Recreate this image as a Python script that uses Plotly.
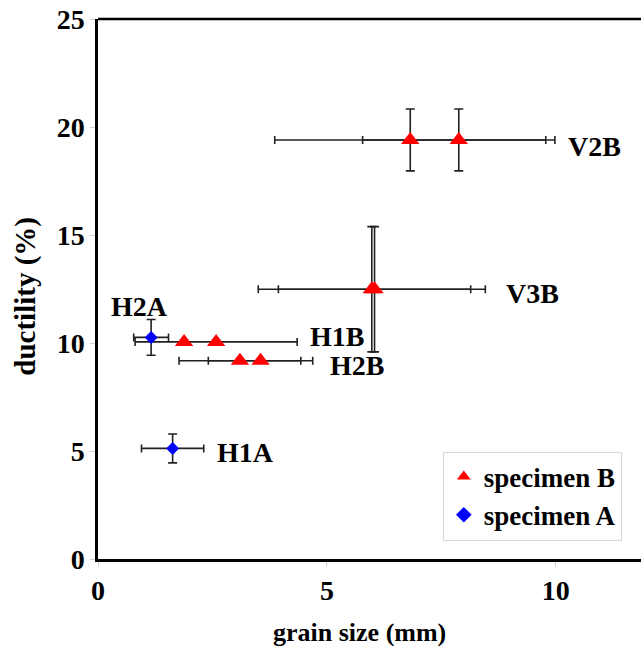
import plotly.graph_objects as go

# specimen B (red triangles)
b_x = [6.82, 7.88, 5.98, 6.04, 1.88, 2.58, 3.10, 3.55]
b_y = [19.40, 19.40, 12.49, 12.49, 10.05, 10.05, 9.18, 9.18]
b_xerr = [2.96, 2.10, 2.48, 2.10, None, 1.77, 1.33, 1.14]
b_yerr = [1.43, 1.43, 2.90, 2.90, None, None, None, None]

# specimen A (blue diamonds)
a_x = [1.16, 1.63]
a_y = [10.26, 5.12]
a_xerr = [0.38, 0.68]
a_yerr = [0.83, 0.67]

# point labels
lab_text = ["V2B", "V3B", "H1B", "H2B", "H2A", "H1A"]
lab_x = [10.85, 9.5, 5.21, 5.65, 0.9, 3.22]
lab_y = [19.1, 12.3, 10.3, 8.98, 11.7, 4.94]

x_ticks = [0, 5, 10]
y_ticks = [0, 5, 10, 15, 20, 25]

FONT = "Liberation Serif"
ERRC = "#222222"

fig = go.Figure()
fig.add_trace(go.Scatter(
    x=b_x, y=b_y, mode="markers", name="<b>specimen B</b>",
    marker=dict(symbol="triangle-up", size=16, color="#ff0000"),
    error_x=dict(type="data", array=b_xerr, visible=True, color=ERRC, thickness=1.6, width=4),
    error_y=dict(type="data", array=b_yerr, visible=True, color=ERRC, thickness=1.6, width=4.5),
))
fig.add_trace(go.Scatter(
    x=a_x, y=a_y, mode="markers", name="<b>specimen A</b>",
    marker=dict(symbol="diamond", size=10, color="#0000ff"),
    error_x=dict(type="data", array=a_xerr, visible=True, color=ERRC, thickness=1.6, width=4),
    error_y=dict(type="data", array=a_yerr, visible=True, color=ERRC, thickness=1.6, width=4.5),
))

for t, x, y in zip(lab_text, lab_x, lab_y):
    fig.add_annotation(x=x, y=y, xref="x", yref="y", text="<b>%s</b>" % t, showarrow=False,
                       font=dict(family=FONT, size=28, color="black"),
                       xanchor="center", yanchor="middle")

# axis titles
fig.add_annotation(x=0.481, y=-0.137, xref="paper", yref="paper", text="<b>grain size (mm)</b>",
                   showarrow=False, font=dict(family=FONT, size=26, color="black"),
                   xanchor="center", yanchor="middle")
fig.add_annotation(x=-0.135, y=0.487, xref="paper", yref="paper", text="<b>ductility (%)</b>",
                   showarrow=False, textangle=-90, font=dict(family=FONT, size=29, color="black"),
                   xanchor="center", yanchor="middle")

# top frame line
fig.add_shape(type="line", xref="paper", yref="paper", x0=0, x1=1, y0=1, y1=1,
              line=dict(color="black", width=2.5))

fig.update_xaxes(range=[0, 11.86], tickvals=x_ticks, ticktext=["<b>%d</b>" % v for v in x_ticks],
                 showgrid=False, zeroline=False, showline=True, linecolor="black", linewidth=2.5,
                 ticks="outside", ticklen=5, tickcolor="#d0d0d0",
                 tickfont=dict(family=FONT, size=28, color="black"))
fig.update_yaxes(range=[0, 25], tickvals=y_ticks, ticktext=["<b>%d</b>" % v for v in y_ticks],
                 showgrid=False, zeroline=False, showline=True, linecolor="black", linewidth=2.5,
                 ticks="outside", ticklen=5, tickcolor="#d0d0d0",
                 tickfont=dict(family=FONT, size=28, color="black"))

fig.update_layout(
    width=641, height=648,
    margin=dict(l=98, r=0, t=19, b=89),
    paper_bgcolor="white", plot_bgcolor="white",
    showlegend=True,
    legend=dict(x=0.635, y=0.199, xanchor="left", yanchor="top",
                bordercolor="#d8d8d8", borderwidth=1, bgcolor="white",
                font=dict(family=FONT, size=27, color="black"),
                itemsizing="constant"),
)

fig.write_html("out.html")
